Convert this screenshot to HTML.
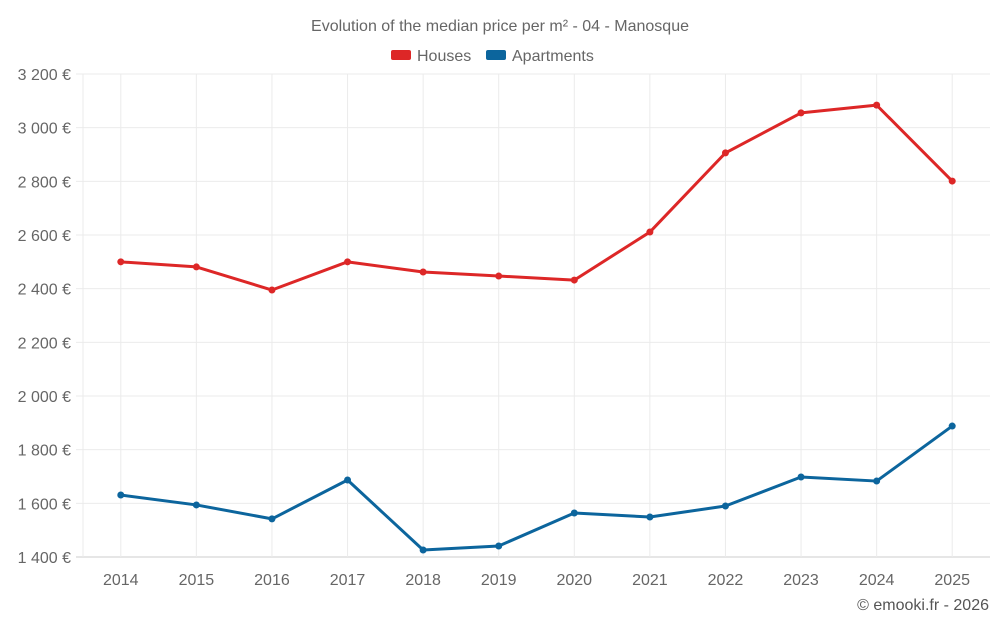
<!DOCTYPE html>
<html><head><meta charset="utf-8"><style>
html,body{margin:0;padding:0;background:#fff;}
svg{display:block;font-family:"Liberation Sans",sans-serif;}
</style></head><body>
<svg id="chart" width="1000" height="625">
<text x="500" y="31" text-anchor="middle" font-size="16" fill="#666">Evolution of the median price per m² - 04 - Manosque</text>
<g>
<g><rect x="391" y="50" width="20" height="10" rx="2" fill="#dd2727"/><text x="417" y="61" font-size="16" fill="#666">Houses</text></g>
<g><rect x="486" y="50" width="20" height="10" rx="2" fill="#0c659d"/><text x="512" y="61" font-size="16" fill="#666">Apartments</text></g>
</g>
<g id="grid"></g><g id="axes"></g><g id="series"></g>
<text x="989" y="610" text-anchor="end" font-size="16" fill="#555">© emooki.fr - 2026</text>
</svg>
<script>
const years=[2014,2015,2016,2017,2018,2019,2020,2021,2022,2023,2024,2025];
const houses=[2500,2481,2395,2500,2462,2447,2432,2611,2906,3055,3084,2801];
const apartments=[1631,1594,1542,1687,1426,1441,1564,1549,1590,1698,1683,1888];
const yTicks=[1400,1600,1800,2000,2200,2400,2600,2800,3000,3200];
const yTickLabels=["1 400 €","1 600 €","1 800 €","2 000 €","2 200 €","2 400 €","2 600 €","2 800 €","3 000 €","3 200 €"];
const NS="http://www.w3.org/2000/svg";
const L=83,R=990,T=74,B=557,yMin=1400,yMax=3200;
const step=(R-L)/years.length;
const xS=i=>L+step*(i+0.5);
const yS=v=>B-(v-yMin)/(yMax-yMin)*(B-T);
function mk(tag,attrs,parent){const e=document.createElementNS(NS,tag);for(const k in attrs)e.setAttribute(k,attrs[k]);parent.appendChild(e);return e;}
const grid=document.getElementById('grid'),axes=document.getElementById('axes'),series=document.getElementById('series');
yTicks.forEach((v,i)=>{
 const ln=mk('line',{x1:76,x2:R,y1:yS(v),y2:yS(v),stroke:i===0?'#ccc':'#ebebeb','stroke-width':1},grid);
 
 
 const t=mk('text',{x:71,y:yS(v)+6,'text-anchor':'end','font-size':16,fill:'#666'},axes);
 t.textContent=yTickLabels[i];
 
 
});
const la=mk('line',{x1:L,x2:L,y1:T,y2:B,stroke:'#ebebeb'},grid);


years.forEach((y,i)=>{
 const ln=mk('line',{x1:xS(i),x2:xS(i),y1:T,y2:B,stroke:'#ebebeb'},grid);
 
 
 const t=mk('text',{x:xS(i),y:585,'text-anchor':'middle','font-size':16,fill:'#666'},axes);
 t.textContent=y;
 
 
});
function draw(vals,color,name){
 const p=mk('polyline',{points:vals.map((v,i)=>xS(i)+','+yS(v)).join(' '),fill:'none',stroke:color,'stroke-width':3,'stroke-linejoin':'round'},series);
 
 
 vals.forEach((v,i)=>{
  const c=mk('circle',{cx:xS(i),cy:yS(v),r:3.5,fill:color},series);
  
  
 });
}
draw(houses,'#dd2727','houses');
draw(apartments,'#0c659d','apartments');
</script>
</body></html>
